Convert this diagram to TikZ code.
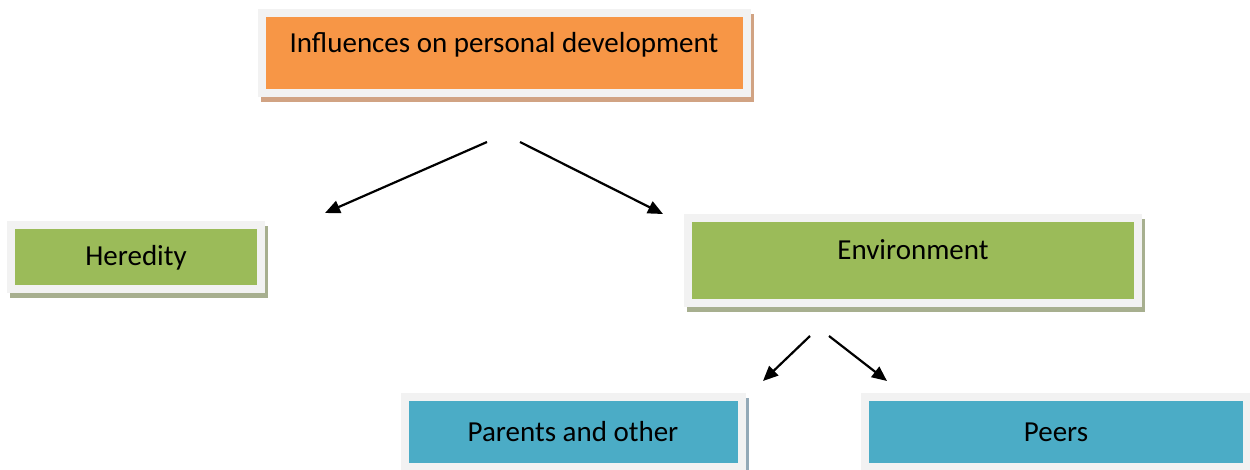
\documentclass[tikz,border=0pt]{standalone}
\usepackage{fontspec}
\setmainfont{Carlito}
\usepackage{tikz}
\usetikzlibrary{arrows.meta, shadows}
\definecolor{mOrange}{HTML}{F79646}
\definecolor{mGreen}{HTML}{9BBB59}
\definecolor{mBlue}{HTML}{4BACC6}
\definecolor{mFrame}{HTML}{F2F2F2}
\definecolor{mTan}{HTML}{D1A383}
\definecolor{mOlive}{HTML}{A7AF8F}
\definecolor{mSlate}{HTML}{93A9B7}

\begin{document}
\begin{tikzpicture}[x=0.5pt, y=-0.5pt,
    box/.style={rectangle, draw=mFrame, line width=4pt, inner sep=0pt, text centered,
        font=\fontsize{14.5}{17}\selectfont},
    shade/.style={drop shadow={shadow xshift=1.5pt, shadow yshift=-2.5pt, fill=#1, draw=#1, line width=4pt, opacity=1}},
    arrow/.style={line width=1.1pt,-{Triangle[length=7.5pt,width=6.5pt]},black}
]
    \clip (0,0) rectangle (1250,470);
    \node[box, shade=mTan, fill=mOrange, minimum width=242.5pt, minimum height=40pt, text depth=11pt] (infl) at (504,53) {Influences on personal development};
    \node[box, shade=mOlive, fill=mGreen, minimum width=125pt, minimum height=32pt, text depth=2pt] (hered) at (136,257) {Heredity};
    \node[box, shade=mOlive, fill=mGreen, minimum width=225pt, minimum height=42.5pt, text depth=11pt] (env) at (913,260.5) {Environment};
    \node[box, shade=mSlate, fill=mBlue, minimum width=168.5pt, minimum height=35pt] (parents) at (573,432) {Parents and other};
    \node[box, shade=mSlate, fill=mBlue, minimum width=191pt, minimum height=35pt] (peers) at (1056,432) {Peers};

    \coordinate (infl-l) at (487,142);
    \coordinate (infl-r) at (520,142);
    \coordinate (hered-in) at (325,213);
    \coordinate (env-in) at (663,214);
    \coordinate (env-l) at (810,336);
    \coordinate (env-r) at (829,336);
    \coordinate (parents-in) at (763,381);
    \coordinate (peers-in) at (887,381);

    \draw[arrow] (infl-l) -- (hered-in);
    \draw[arrow] (infl-r) -- (env-in);
    \draw[arrow] (env-l) -- (parents-in);
    \draw[arrow] (env-r) -- (peers-in);
\end{tikzpicture}
\end{document}
